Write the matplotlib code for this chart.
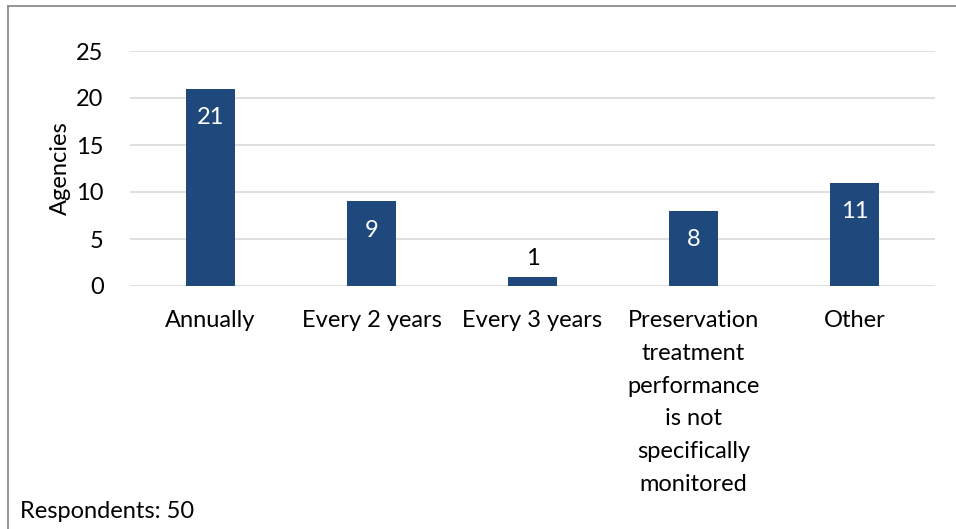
import matplotlib
matplotlib.use("Agg")
import matplotlib.pyplot as plt
from matplotlib.lines import Line2D

categories = ["Annually", "Every 2 years", "Every 3 years",
              "Preservation\ntreatment\nperformance\nis not\nspecifically\nmonitored", "Other"]
values = [21, 9, 1, 8, 11]
yticks = [0, 5, 10, 15, 20, 25]

plt.rcParams['font.family'] = ['Lato', 'DejaVu Sans']

W, H = 956, 529
FS = 17
fig = plt.figure(figsize=(W/100, H/100), dpi=100)
ax = fig.add_axes([130/W, 1-286/H, (935-130)/W, (286-51)/H])

bar_color = "#1F497D"
x = list(range(len(categories)))
ax.bar(x, values, width=0.31, color=bar_color, zorder=3)
ax.set_xlim(-0.5, len(categories)-0.5)
ax.set_ylim(0, 25)
ax.set_yticks(yticks)
ax.set_yticklabels([str(t) for t in yticks], fontsize=FS)
ax.set_xticks(x)
ax.set_xticklabels(categories, fontsize=FS, linespacing=1.69, va='top')
ax.tick_params(axis='both', length=0, colors='black')
ax.tick_params(axis='x', pad=17.5)
ax.tick_params(axis='y', pad=19)
ax.grid(axis='y', color='#D9D9D9', linewidth=1.2, zorder=0)
for s in ax.spines.values():
    s.set_visible(False)
ax.set_ylabel("Agencies", fontsize=FS, labelpad=4)

for xi, v in zip(x, values):
    if v >= 5:
        ax.text(xi, v - 3.1, str(v), ha='center', va='center', color='white', fontsize=FS, zorder=4)
    else:
        ax.text(xi, v + 1.9, str(v), ha='center', va='center', color='black', fontsize=FS, zorder=4)

fig.text(20/W, 1-511/H, "Respondents: 50", fontsize=FS, va='center', ha='left')

fig.add_artist(Line2D([8/W, 8/W], [0, 1-6/H], transform=fig.transFigure, color='#8C8C8C', linewidth=1.3))
fig.add_artist(Line2D([8/W, 1], [1-6/H, 1-6/H], transform=fig.transFigure, color='#8C8C8C', linewidth=1.3))

fig.savefig("out.png", dpi=100)
